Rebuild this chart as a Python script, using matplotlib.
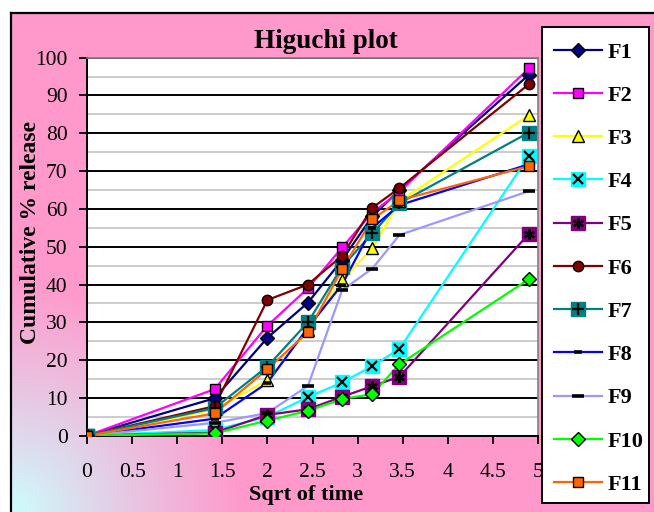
import numpy as np
import matplotlib
matplotlib.use("Agg")
import matplotlib.pyplot as plt
from matplotlib.lines import Line2D
from matplotlib.patches import Rectangle
from matplotlib.legend_handler import HandlerTuple
from matplotlib.ticker import MultipleLocator

# Release data: cumulative % release against square root of time (h)
hours = [0, 2, 4, 6, 8, 10, 12, 24]
sqrt_t = np.sqrt(hours)

labels = ["F1", "F2", "F3", "F4", "F5", "F6", "F7", "F8", "F9", "F10", "F11"]
F1 = [0, 9.9, 25.9, 35.2, 46.5, 58.0, 65.0, 95.5]
F2 = [0, 12.3, 29.1, 39.0, 49.8, 59.0, 64.5, 97.2]
F3 = [0, 7.0, 14.7, 28.0, 41.2, 49.6, 62.0, 84.8]
F4 = [0, 1.5, 5.0, 10.2, 14.1, 18.4, 23.0, 74.0]
F5 = [0, 0.8, 5.5, 7.0, 10.3, 13.1, 15.6, 53.4]
F6 = [0, 7.8, 35.9, 40.0, 47.6, 60.3, 65.5, 93.0]
F7 = [0, 7.3, 18.3, 30.0, 44.7, 53.5, 61.5, 80.2]
F8 = [0, 4.5, 14.0, 28.6, 40.0, 55.0, 61.0, 71.8]
F9 = [0, 3.4, 6.0, 13.2, 38.5, 44.2, 53.1, 64.7]
F10 = [0, 0.6, 4.0, 6.6, 9.7, 11.0, 18.9, 41.4]
F11 = [0, 5.9, 17.6, 27.4, 44.1, 57.2, 62.3, 71.3]
series = [F1, F2, F3, F4, F5, F6, F7, F8, F9, F10, F11]

x_ticks = [0, 0.5, 1, 1.5, 2, 2.5, 3, 3.5, 4, 4.5, 5]
x_ticklabels = ["0", "0.5", "1", "1.5", "2", "2.5", "3", "3.5", "4", "4.5", "5"]
y_ticks = list(range(0, 101, 10))

# Excel-like series styles: line colour, marker, marker face, marker edge, size,
# and an optional coloured square drawn behind the symbol
styles = [
    dict(c="#000080", m="D", fc="#000080", ec="black", ms=7.5, bg=None),
    dict(c="#FF00FF", m="s", fc="#FF00FF", ec="black", ms=7, bg=None),
    dict(c="#FFFF00", m="^", fc="#FFFF00", ec="black", ms=8, bg=None),
    dict(c="#00FFFF", m="x", fc="black", ec="black", ms=7, bg="#00FFFF"),
    dict(c="#800080", m=(6, 2, 0), fc="black", ec="black", ms=8, bg="#800080"),
    dict(c="#800000", m="o", fc="#800000", ec="black", ms=7.5, bg=None),
    dict(c="#008080", m="+", fc="black", ec="black", ms=8, bg="#008080"),
    dict(c="#0000FF", m="_", fc="black", ec="black", ms=6, bg=None),
    dict(c="#9999FF", m="_", fc="black", ec="black", ms=9, bg=None),
    dict(c="#00FF00", m="D", fc="#00FF00", ec="black", ms=7, bg=None),
    dict(c="#FF6600", m="s", fc="#FF6600", ec="black", ms=7, bg=None),
]

W, H = 654, 512
fig = plt.figure(figsize=(W / 100, H / 100), dpi=100)

# Chart-area background: pink with a light cyan glow from the lower-left corner
bg = fig.add_axes([0, 0, 1, 1], zorder=-10)
bg.set_axis_off()
yy, xx = np.mgrid[0:H, 0:W]
d = np.sqrt(((xx - 11) / 230.0) ** 2 + ((H - yy) / 230.0) ** 2)
t = np.clip(d, 0, 1) ** 0.9
pink = np.array([1.0, 0.6, 0.8])
cyan = np.array([0.8, 1.0, 1.0])
img = cyan[None, None, :] * (1 - t[..., None]) + pink[None, None, :] * t[..., None]
img[:12, :, :] = 1.0
img[:, :11, :] = 1.0
bg.imshow(img, extent=[0, W, H, 0], aspect="auto", interpolation="bilinear")
bg.set_xlim(0, W)
bg.set_ylim(H, 0)
bg.plot([11, W], [12.5, 12.5], color="black", lw=1.6)
bg.plot([11, 11], [12.5, H], color="black", lw=1.6)
# Legend box
bg.add_patch(Rectangle((542, 27), 107, 476, facecolor="white", edgecolor="black",
                       lw=1.4))

ax = fig.add_axes([87 / W, 1 - 435.7 / H, (538 - 87) / W, (435.7 - 57.7) / H])
ax.set_facecolor("white")
ax.set_xlim(0, 5)
ax.set_ylim(0, 100)

ax.yaxis.set_minor_locator(MultipleLocator(5))
ax.set_yticks(y_ticks)
ax.set_yticklabels([str(v) for v in y_ticks])
ax.set_xticks(x_ticks)
ax.set_xticklabels(x_ticklabels)
ax.grid(axis="y", which="minor", color="#C8C8C8", lw=1.3, zorder=0)
ax.grid(axis="y", which="major", color="black", lw=1.4, zorder=0)
ax.set_axisbelow(True)

for s in ("top", "right"):
    ax.spines[s].set_color("#808080")
    ax.spines[s].set_linewidth(1.2)
for s in ("left", "bottom"):
    ax.spines[s].set_color("black")
    ax.spines[s].set_linewidth(1.4)

ax.tick_params(axis="both", which="major", direction="out", length=6, width=1.3,
               color="black")
ax.tick_params(axis="y", which="minor", length=0)
ax.tick_params(axis="y", pad=8)
ax.tick_params(axis="x", pad=14)
for lab in ax.get_xticklabels() + ax.get_yticklabels():
    lab.set_fontfamily("Liberation Serif")
    lab.set_fontsize(15.5)

handles = []
for name, vals, st in zip(labels, series, styles):
    ax.plot(sqrt_t, vals, color=st["c"], lw=1.6, zorder=3)
    parts = [Line2D([], [], color=st["c"], lw=1.6)]
    if st["bg"] is not None:
        ax.plot(sqrt_t, vals, ls="none", marker="s", ms=10.5, mfc=st["bg"],
                mec=st["bg"], zorder=4)
        parts.append(Line2D([], [], ls="none", marker="s", ms=10.5,
                            mfc=st["bg"], mec=st["bg"]))
    mew = 2.6 if st["m"] == "_" else (1.6 if st["m"] in ("x", "+", (6, 2, 0)) else 1.0)
    ax.plot(sqrt_t, vals, ls="none", marker=st["m"], ms=st["ms"], mfc=st["fc"],
            mec=st["ec"], mew=mew, zorder=5)
    parts.append(Line2D([], [], ls="none", marker=st["m"], ms=st["ms"],
                        mfc=st["fc"], mec=st["ec"], mew=mew))
    handles.append(tuple(parts))

fig.text(326 / W, 1 - 42 / H, "Higuchi plot", fontfamily="Liberation Serif",
         fontsize=19.5, fontweight="bold", ha="center", va="center")
ax.set_xlabel("Sqrt of time", fontfamily="Liberation Serif", fontsize=16,
              fontweight="bold")
ax.set_ylabel("Cumulative % release", fontfamily="Liberation Serif", fontsize=17,
              fontweight="bold")
ax.xaxis.label.set_va("center")
ax.yaxis.label.set_va("center")
ax.xaxis.set_label_coords((306 - 87) / 451, (435.7 - 495) / 378)
ax.yaxis.set_label_coords((30 - 87) / 451, (435.7 - 232) / 378)

leg = fig.legend(handles, labels, handler_map={tuple: HandlerTuple(ndivide=1, pad=0)},
                 loc="upper left", bbox_to_anchor=(554 / W, 1 - 42 / H),
                 bbox_transform=fig.transFigure,
                 prop=dict(family="Liberation Serif", size=16, weight="bold"),
                 frameon=False, borderpad=0.0, labelspacing=1.02,
                 handlelength=2.15, handletextpad=0.25, borderaxespad=0)

fig.savefig("out.png", dpi=100)
